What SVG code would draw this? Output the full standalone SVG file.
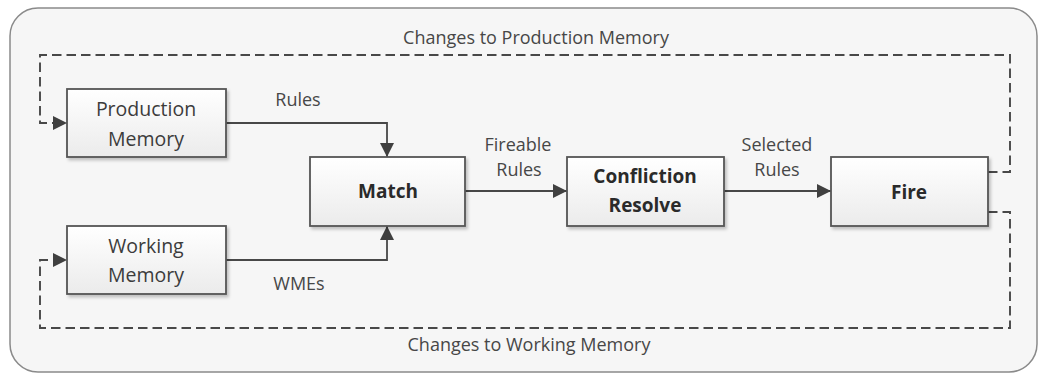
<svg xmlns="http://www.w3.org/2000/svg" width="1039" height="375" viewBox="0 0 1039 375">
  <style>
    .box { stroke: #555555; stroke-width: 1.8; fill: url(#boxFill); filter: url(#shadow); }
    .lbl { font-family: "Open Sans", "Liberation Sans", sans-serif; font-size: 19.5px; fill: #3c3c3c; text-anchor: middle; }
    .bold { font-weight: bold; font-size: 19px; fill: #2a2a2a; }
    .edge { font-family: "Open Sans", "Liberation Sans", sans-serif; font-size: 18px; fill: #474747; text-anchor: middle; }
    .flow { fill: none; stroke: #484848; stroke-width: 1.8; }
    .dash { fill: none; stroke: #484848; stroke-width: 1.9; stroke-dasharray: 9.5 5; }
  </style>
  <defs>
    <linearGradient id="boxFill" x1="0" y1="0" x2="0" y2="1">
      <stop offset="0" stop-color="#ffffff"/>
      <stop offset="1" stop-color="#ebebeb"/>
    </linearGradient>
    <filter id="shadow" x="-10%" y="-10%" width="125%" height="135%">
      <feDropShadow dx="2" dy="2.5" stdDeviation="1.5" flood-color="#000" flood-opacity="0.22"/>
    </filter>
    <marker id="arrow" viewBox="0 0 14 14" refX="14" refY="7" markerWidth="14" markerHeight="14" markerUnits="userSpaceOnUse" orient="auto">
      <path d="M0,0 L14,7 L0,14 Z" fill="#404040"/>
    </marker>
  </defs>

  <rect width="1039" height="375" fill="#ffffff"/>
  <!-- outer frame -->
  <rect x="10" y="8" width="1027" height="364" rx="28" ry="28" fill="#f6f6f6" stroke="#8a8a8a" stroke-width="1.5"/>

  <!-- connectors -->
  <g id="connectors">
    <path class="flow" d="M226,123 H387 V157" marker-end="url(#arrow)"/>
    <path class="flow" d="M226,260 H387 V226" marker-end="url(#arrow)"/>
    <path class="flow" d="M465,191 H567" marker-end="url(#arrow)"/>
    <path class="flow" d="M724,191 H831" marker-end="url(#arrow)"/>
    <path class="dash" d="M988,172 H1010 V55 H40 V123 H67" marker-end="url(#arrow)"/>
    <path class="dash" d="M988,212 H1010 V328 H40 V260 H67" marker-end="url(#arrow)"/>
    <text class="edge" x="298" y="106">Rules</text>
    <text class="edge" x="299" y="290">WMEs</text>
    <text class="edge" x="518" y="151">Fireable</text>
    <text class="edge" x="519" y="176">Rules</text>
    <text class="edge" x="777" y="151">Selected</text>
    <text class="edge" x="777" y="176">Rules</text>
    <text class="edge" x="536" y="44">Changes to Production Memory</text>
    <text class="edge" x="529" y="351">Changes to Working Memory</text>
  </g>

  <g id="production-memory">
    <rect class="box" x="67" y="89" width="159" height="68"/>
    <text class="lbl" x="146" y="116">Production</text>
    <text class="lbl" x="146" y="146">Memory</text>
  </g>

  <g id="working-memory">
    <rect class="box" x="67" y="226" width="159" height="68"/>
    <text class="lbl" x="146" y="253">Working</text>
    <text class="lbl" x="146" y="282">Memory</text>
  </g>

  <g id="match">
    <rect class="box" x="310" y="157" width="155" height="69"/>
    <text class="lbl bold" x="388" y="198">Match</text>
  </g>

  <g id="confliction-resolve">
    <rect class="box" x="567" y="157" width="157" height="69"/>
    <text class="lbl bold" x="645" y="183">Confliction</text>
    <text class="lbl bold" x="645" y="212">Resolve</text>
  </g>

  <g id="fire">
    <rect class="box" x="831" y="157" width="157" height="69"/>
    <text class="lbl bold" x="909" y="199">Fire</text>
  </g>
</svg>
